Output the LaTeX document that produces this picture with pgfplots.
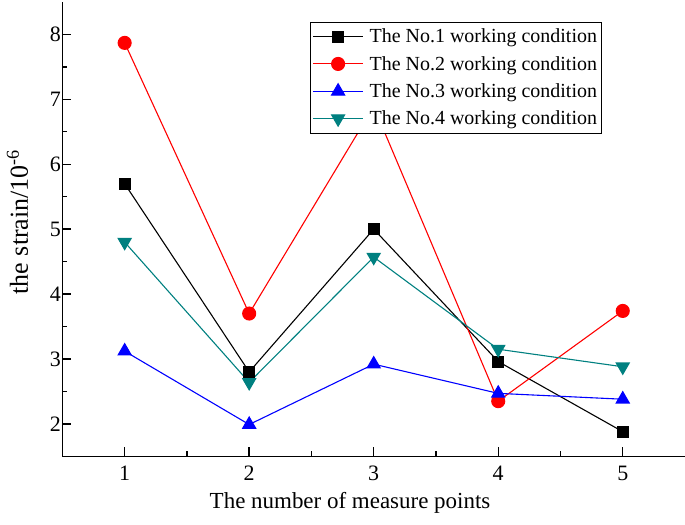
\documentclass[border=0pt]{standalone}
\usepackage{fontspec}
\setmainfont{Liberation Serif}
\usepackage{pgfplots}
\pgfplotsset{compat=1.18}
\definecolor{teal4}{RGB}{0,128,128}
\begin{document}
\begin{tikzpicture}
\begin{axis}[
  scale only axis,
  width=623.5pt, height=455pt,
  xmin=0.5, xmax=5.5, ymin=1.5, ymax=8.5,
  axis lines=left,
  axis line style={-, line width=1.6pt},
  xtick={1,2,3,4,5},
  ytick={2,3,4,5,6,7,8},
  minor x tick num=1,
  minor y tick num=1,
  tick align=inside,
  major tick length=9pt,
  minor tick length=5pt,
  tick style={line width=1.4pt, black},
  /pgf/number format/assume math mode=true,
  tick label style={font=\fontsize{22}{26}\selectfont},
  xticklabel style={yshift=-6pt},
  yticklabel style={xshift=2pt},
  label style={font=\fontsize{23}{27}\selectfont},
  xlabel={The number of measure points},
  ylabel={\fontsize{26}{30}\selectfont the strain/10\textsuperscript{-6}},
  xlabel style={at={(axis description cs:0.462,-0.1143)}, anchor=base},
  ylabel style={at={(axis description cs:-0.0553,0.516)}, anchor=base},
  legend cell align=left,
  legend style={at={(rel axis cs:0.398,0.957)}, anchor=north west,
    draw=black, line width=0.8pt, font=\fontsize{20}{24}\selectfont,
    inner xsep=2pt, inner ysep=5pt, row sep=8pt,
    /tikz/every odd column/.append style={column sep=4pt}},
  legend image code/.code={\draw[mark repeat=2,mark phase=2] plot coordinates {(0pt,0pt) (25pt,0pt) (50pt,0pt)};},
  every axis plot/.append style={line width=1.1pt},
]
\addplot[black, mark=square*, mark size=5.5pt, mark options={solid}] coordinates {
  (1,5.70) (2,2.80) (3,5.00) (4,2.96) (5,1.88)};
\addlegendentry{The No.1 working condition}
\addplot[red, mark=*, mark size=6.5pt] coordinates {
  (1,7.87) (2,3.70) (3,6.89) (4,2.35) (5,3.74)};
\addlegendentry{The No.2 working condition}
\addplot[blue, mark=triangle*, mark size=7.5pt] coordinates {
  (1,3.12) (2,1.99) (3,2.92) (4,2.47) (5,2.38)};
\addlegendentry{The No.3 working condition}
\addplot[teal4, mark=triangle*, mark size=7.5pt, mark options={rotate=180}] coordinates {
  (1,4.80) (2,2.64) (3,4.57) (4,3.15) (5,2.88)};
\addlegendentry{The No.4 working condition}
\end{axis}
\pgfresetboundingbox
\path ([xshift=-62.5pt,yshift=-68pt]current axis.south west) rectangle ([yshift=2pt]current axis.north east);
\end{tikzpicture}
\end{document}
